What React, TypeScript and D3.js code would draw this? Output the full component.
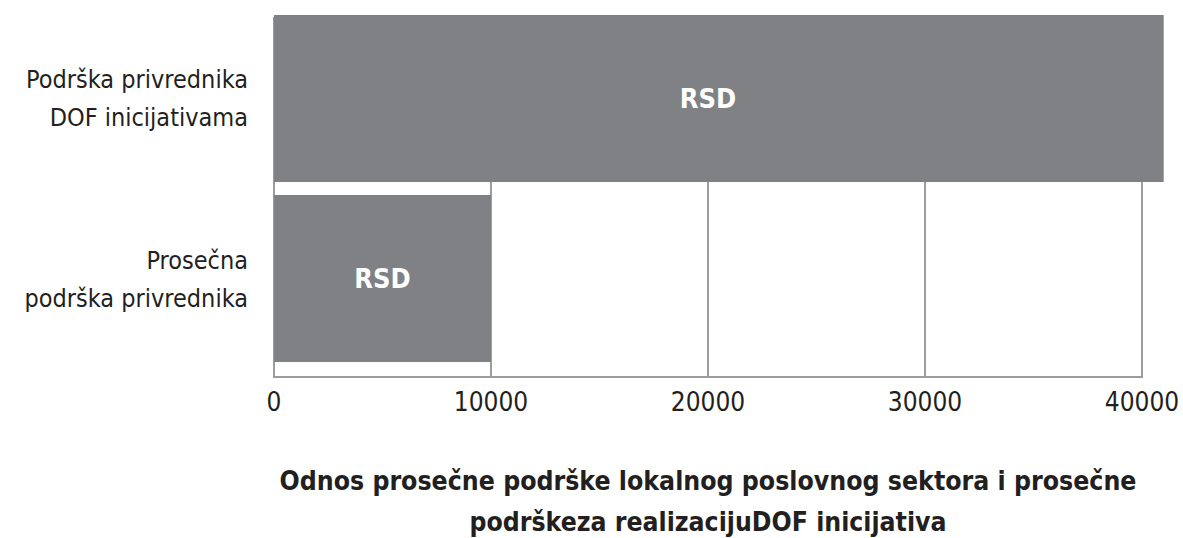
import React, { useEffect, useRef } from "react";
import * as d3 from "d3";

const categories = ["Podrška privrednika\nDOF inicijativama", "Prosečna\npodrška privrednika"];
const values = [41000, 10000];
const barLabels = ["RSD", "RSD"];
const tickValues = [0, 10000, 20000, 30000, 40000];
const titleLines = [
  "Odnos prosečne podrške lokalnog poslovnog sektora i prosečne",
  "podrškeza realizacijuDOF inicijativa",
];

const W = 1183;
const H = 538;
const BAR = "#808184";
const GRID = "#9d9d9f";
const TEXT = "#231f20";
const FONT = "'DejaVu Sans Condensed', 'Roboto', sans-serif";
const BOLD = "'DejaVu Sans Condensed', 'Roboto', sans-serif";

export default function App() {
  const ref = useRef<SVGSVGElement | null>(null);

  useEffect(() => {
    const svg = d3.select(ref.current);
    svg.selectAll("*").remove();

    const x = d3.scaleLinear().domain([0, 40000]).range([274, 1142]);
    const y = d3
      .scaleBand<string>()
      .domain(categories)
      .range([0, 377])
      .paddingInner(0.0722)
      .paddingOuter(0.0833);

    const top = y(categories[0]) as number;

    // gridlines
    svg
      .append("g")
      .selectAll("line")
      .data(tickValues)
      .join("line")
      .attr("x1", (d) => x(d))
      .attr("x2", (d) => x(d))
      .attr("y1", top + 2)
      .attr("y2", 377)
      .attr("stroke", GRID)
      .attr("stroke-width", 2);

    // bottom axis line
    svg
      .append("line")
      .attr("x1", x(0) - 1)
      .attr("x2", x(40000) + 1)
      .attr("y1", 377)
      .attr("y2", 377)
      .attr("stroke", GRID)
      .attr("stroke-width", 2);

    // bars
    svg
      .append("g")
      .selectAll("rect")
      .data(values)
      .join("rect")
      .attr("x", x(0))
      .attr("y", (_, i) => y(categories[i]) as number)
      .attr("width", (d) => x(d) - x(0))
      .attr("height", y.bandwidth())
      .attr("fill", BAR);

    // bar labels
    svg
      .append("g")
      .selectAll("text")
      .data(values)
      .join("text")
      .attr("x", (d) => x(Math.min(d, 40000) / 2))
      .attr("y", (_, i) => (y(categories[i]) as number) + y.bandwidth() / 2)
      .attr("dy", "0.36em")
      .attr("text-anchor", "middle")
      .attr("fill", "#ffffff")
      .attr("font-family", BOLD)
      .attr("font-weight", "bold")
      .attr("font-size", 27)
      .text((_, i) => barLabels[i]);

    // category labels
    const cat = svg
      .append("g")
      .selectAll("text")
      .data(categories)
      .join("text")
      .attr("text-anchor", "end")
      .attr("fill", TEXT)
      .attr("font-family", FONT)
      .attr("font-size", 25);
    cat.each(function (d) {
      const lines = d.split("\n");
      const cy = (y(d) as number) + y.bandwidth() / 2;
      const t = d3.select(this);
      lines.forEach((ln, j) => {
        t.append("tspan")
          .attr("x", 248)
          .attr("y", cy + (j - (lines.length - 1) / 2) * 38 + 9)
          .text(ln);
      });
    });

    // tick labels
    svg
      .append("g")
      .selectAll("text")
      .data(tickValues)
      .join("text")
      .attr("x", (d) => x(d))
      .attr("y", 411)
      .attr("text-anchor", "middle")
      .attr("fill", TEXT)
      .attr("font-family", FONT)
      .attr("font-size", 26)
      .text((d) => String(d));

    // title
    const titleWidths = [857, 477];
    svg
      .append("g")
      .selectAll("text")
      .data(titleLines)
      .join("text")
      .attr("x", (x(0) + x(40000)) / 2)
      .attr("y", (_, i) => 490 + i * 41)
      .attr("text-anchor", "middle")
      .attr("fill", TEXT)
      .attr("font-family", BOLD)
      .attr("font-weight", "bold")
      .attr("font-size", 26)
      .attr("textLength", (_, i) => titleWidths[i])
      .attr("lengthAdjust", "spacingAndGlyphs")
      .text((d) => d);
  }, []);

  return (
    <svg
      ref={ref}
      width={W}
      height={H}
      style={{ position: "absolute", left: 0, top: 0, background: "#fff" }}
    />
  );
}
